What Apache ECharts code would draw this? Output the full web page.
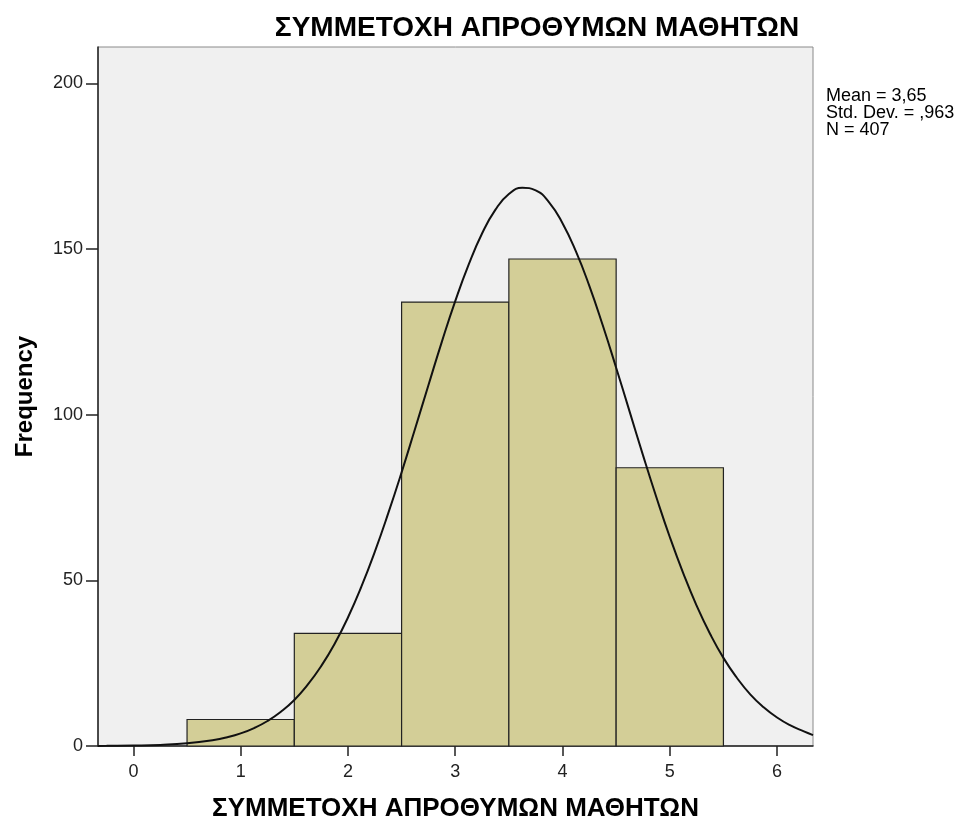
<!DOCTYPE html>
<html>
<head>
<meta charset="utf-8">
<style>
  html, body { margin: 0; padding: 0; background: #fff; }
  #chart { width: 963px; height: 821px; }
</style>
<script src="https://cdn.jsdelivr.net/npm/echarts@6/dist/echarts.min.js"></script>
</head>
<body>
<div id="chart"></div>
<script>
// Histogram bins: lower edge, upper edge, frequency
const binStarts = [0.5, 1.5, 2.5, 3.5, 4.5];
const binEnds   = [1.5, 2.5, 3.5, 4.5, 5.5];
const frequencies = [8, 34, 134, 147, 84];

// Fitted normal curve (Mean = 3,65, Std. Dev. = ,963, N = 407), sampled points
const curveX = [-0.33, -0.25, 0, 0.25, 0.5, 0.75, 0.875, 1, 1.125, 1.25, 1.375, 1.5, 1.625, 1.75, 1.875,
  2, 2.125, 2.25, 2.375, 2.5, 2.625, 2.75, 2.875, 3, 3.125, 3.25, 3.375, 3.5, 3.625, 3.75, 3.875,
  4, 4.125, 4.25, 4.375, 4.5, 4.625, 4.75, 4.875, 5, 5.125, 5.25, 5.375, 5.5, 5.625, 5.75, 5.875,
  6, 6.125, 6.25, 6.335];
const curveY = [0.03, 0.05, 0.13, 0.33, 0.80, 1.81, 2.65, 3.82, 5.42, 7.55, 10.35, 13.9, 18.5, 24.1, 30.8,
  38.8, 48.1, 58.6, 70.2, 82.6, 95.7, 108.9, 122.0, 134.3, 145.3, 154.7, 161.9, 166.6, 168.5, 167.7, 164.1,
  157.8, 149.3, 138.9, 127.0, 114.2, 101.0, 87.8, 75.1, 63.1, 52.2, 42.4, 33.9, 26.6, 20.6, 15.6, 11.7,
  8.59, 6.2, 4.40, 3.3];

const xTicks = [0, 1, 2, 3, 4, 5, 6];
const yTicks = [0, 50, 100, 150, 200];

const titleText = 'ΣΥΜΜΕΤΟΧΗ ΑΠΡΟΘΥΜΩΝ ΜΑΘΗΤΩΝ';
const statsLines = ['Mean = 3,65', 'Std. Dev. = ,963', 'N = 407'];

const chart = echarts.init(document.getElementById('chart'));

const binData = binStarts.map((s, i) => [s, binEnds[i], frequencies[i]]);
const curveData = curveX.map((x, i) => [x, curveY[i]]);

const fontFamily = '"Liberation Sans", Arial, sans-serif';

chart.setOption({
  animation: false,
  backgroundColor: '#ffffff',
  title: {
    text: titleText,
    left: 537,
    top: 14,
    padding: 0,
    textAlign: 'center',
    textStyle: { fontFamily, fontSize: 28, fontWeight: 'bold', color: '#000' }
  },
  graphic: [{
    type: 'text',
    left: 826,
    top: 87,
    style: {
      text: statsLines.join('\n'),
      font: '18px "Liberation Sans", Arial, sans-serif',
      lineHeight: 17,
      fill: '#000'
    }
  }],
  grid: {
    left: 98, top: 47, right: 150, bottom: 75,
    outerBoundsMode: 'none',
    containLabel: false,
    show: true,
    backgroundColor: '#f0f0f0',
    borderColor: '#8a8a8a',
    borderWidth: 1
  },
  xAxis: {
    type: 'value',
    min: -0.33,
    max: 6.335,
    name: titleText,
    nameLocation: 'middle',
    nameGap: 50,
    nameTextStyle: { fontFamily, fontSize: 26, fontWeight: 'bold', color: '#000' },
    axisLine: { show: true, onZero: false, lineStyle: { color: '#222', width: 1.5 } },
    axisTick: { show: true, customValues: xTicks, length: 10, lineStyle: { color: '#222', width: 1.5 } },
    axisLabel: { customValues: xTicks, fontFamily, fontSize: 18, color: '#222', margin: 17 },
    splitLine: { show: false }
  },
  yAxis: {
    type: 'value',
    min: 0,
    max: 211,
    name: 'Frequency',
    nameLocation: 'middle',
    nameGap: 61,
    nameTextStyle: { fontFamily, fontSize: 24, fontWeight: 'bold', color: '#000' },
    axisLine: { show: true, onZero: false, lineStyle: { color: '#222', width: 1.5 } },
    axisTick: { show: true, customValues: yTicks, length: 12, lineStyle: { color: '#222', width: 1.5 } },
    axisLabel: { customValues: yTicks, fontFamily, fontSize: 18, color: '#222', margin: 15 },
    splitLine: { show: false }
  },
  series: [
    {
      type: 'custom',
      data: binData,
      encode: { x: [0, 1], y: 2 },
      renderItem: function (params, api) {
        const p0 = api.coord([api.value(0), api.value(2)]);
        const p1 = api.coord([api.value(1), 0]);
        return {
          type: 'rect',
          shape: { x: p0[0], y: p0[1], width: p1[0] - p0[0], height: p1[1] - p0[1] },
          style: { fill: '#d3ce97', stroke: '#222', lineWidth: 1.2 }
        };
      },
      z: 2
    },
    {
      type: 'line',
      data: curveData,
      smooth: true,
      showSymbol: false,
      symbol: 'none',
      lineStyle: { color: '#111', width: 2 },
      z: 3
    }
  ]
});
</script>
</body>
</html>
